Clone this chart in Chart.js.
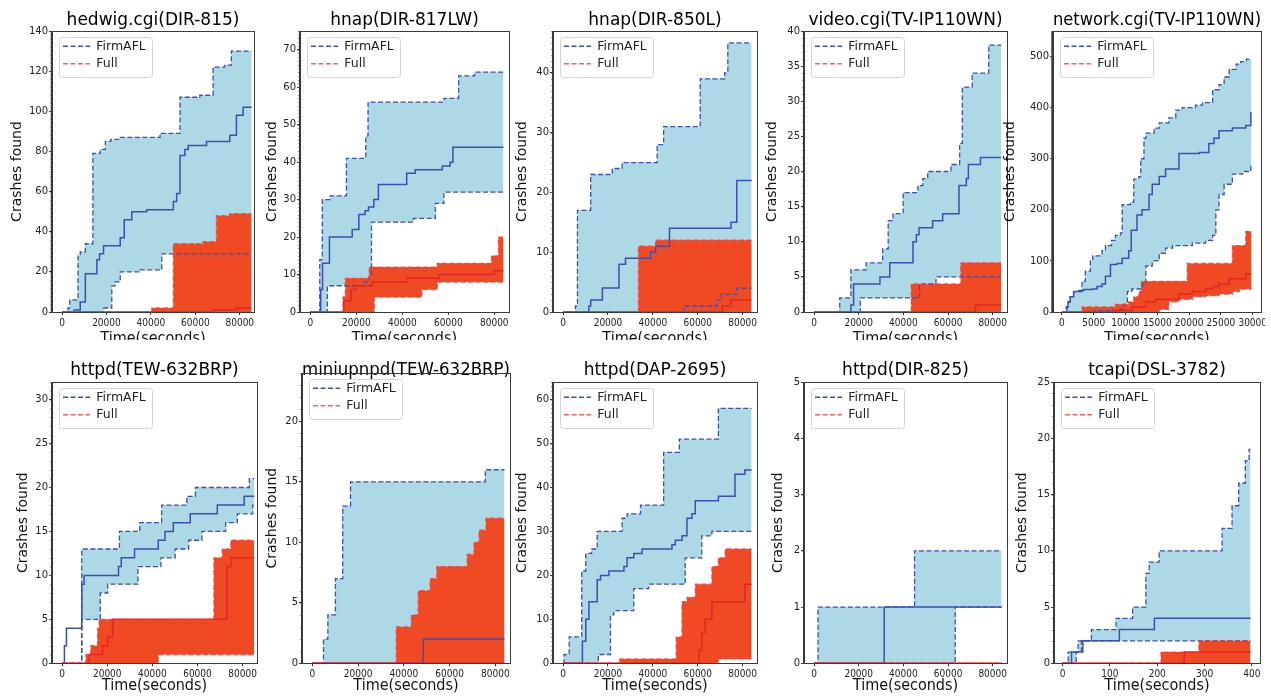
<!DOCTYPE html>
<html>
<head>
<meta charset="utf-8">
<script src="https://cdn.jsdelivr.net/npm/chart.js@4.4.0/dist/chart.umd.min.js"></script>
<style>
body { margin: 0; background: #fff; width: 1271px; height: 696px; overflow: hidden; position: relative; }
.panel { position: absolute; overflow: hidden; }
</style>
</head>
<body>
<script>
'use strict';

// panel titles and legend names
const titles = ['hedwig.cgi(DIR-815)', 'hnap(DIR-817LW)', 'hnap(DIR-850L)', 'video.cgi(TV-IP110WN)', 'network.cgi(TV-IP110WN)',
    'httpd(TEW-632BRP)', 'miniupnpd(TEW-632BRP)', 'httpd(DAP-2695)', 'httpd(DIR-825)', 'tcapi(DSL-3782)'];
const seriesNames = ['FirmAFL', 'Full'];

// tick labels
const dayTicks = [0, 20000, 40000, 60000, 80000];
const netTicks = [0, 5000, 10000, 15000, 20000, 25000, 30000];
const tcapiTicks = [0, 100, 200, 300, 400];
const yTicks = [
    [0, 20, 40, 60, 80, 100, 120, 140],
    [0, 10, 20, 30, 40, 50, 60, 70],
    [0, 10, 20, 30, 40],
    [0, 5, 10, 15, 20, 25, 30, 35, 40],
    [0, 100, 200, 300, 400, 500],
    [0, 5, 10, 15, 20, 25, 30],
    [0, 5, 10, 15, 20],
    [0, 10, 20, 30, 40, 50, 60],
    [0, 1, 2, 3, 4, 5],
    [0, 5, 10, 15, 20, 25]
];
const yMax = [140, 75, 47, 40, 550, 32, 24, 64, 5, 25];
const xMin = [-4500, -4500, -4500, -4500, -1400, -4500, -4500, -4500, -4500, -18];
const xMax = [86400, 86400, 86400, 86400, 31300, 86400, 86400, 86400, 86400, 417];
const xTicks = [dayTicks, dayTicks, dayTicks, dayTicks, netTicks, dayTicks, dayTicks, dayTicks, dayTicks, tcapiTicks];

// [time, crashes] : upper / median / lower of each fuzzer
const p1FirmHi = [[0,0],[2700,2],[3500,6],[7200,28],[8200,30],[10500,34],[13900,79],[17200,81],[19500,85],[22000,86],[26200,87],[44100,89],[53100,107],[62000,108],[68000,122],[73300,123],[76200,130],[85300,130]];
const p1FirmMid = [[0,0],[5500,1],[8200,5],[10500,19],[15700,26],[16900,29],[18700,33],[26200,37],[28000,46],[31400,50],[38100,51],[50100,55],[51600,59],[53100,78],[55300,81],[56800,83],[65000,85],[75500,88],[78500,98],[81500,102],[85300,102]];
const p1FirmLo = [[0,0],[18700,2],[22400,13],[23900,15],[26200,20],[35100,21],[44900,29],[85300,29]];
const p1FullHi = [[0,0],[40400,2],[50100,34],[63500,35],[69500,48],[75500,49],[85300,49]];
const p1FullMid = [[0,0],[68000,1],[78500,2],[85300,2]];
const p1FullLo = [[0,0],[85300,0]];

const p2FirmHi = [[0,0],[4100,14],[5200,30],[8600,31],[15700,41],[24100,47],[25100,56],[58100,57],[64500,63],[71400,64],[84000,64]];
const p2FirmMid = [[0,0],[4500,6],[5300,13],[8300,20],[18200,22],[21100,26],[23800,27],[25300,28],[27600,30],[29600,34],[41900,37],[45600,38],[57400,39],[60800,40],[62000,44],[84000,44]];
const p2FirmLo = [[0,0],[7400,7],[23400,8],[25600,10],[26600,24],[44800,25],[54400,29],[58100,32],[84000,32]];
const p2FullHi = [[0,0],[14200,4],[15200,9],[25600,12],[55200,13],[78800,15],[81800,20],[84000,20]];
const p2FullMid = [[0,0],[14500,3],[17700,6],[20000,7],[27000,8],[42000,9],[56000,10],[80000,11],[84000,11]];
const p2FullLo = [[0,0],[27800,4],[48500,6],[55200,8],[84000,8]];

const p3FirmHi = [[0,0],[5500,1],[6400,17],[12300,23],[21900,24],[26300,25],[41900,28],[44800,31],[61100,39],[72000,40],[73400,45],[84000,45]];
const p3FirmMid = [[0,0],[11500,1],[12300,2],[17500,4],[24900,8],[27800,9],[39000,10],[41200,11],[47400,14],[74800,15],[77400,22],[84000,22]];
const p3FirmLo = [[0,0],[54000,1],[68500,2],[70500,3],[77400,4],[84000,4]];
const p3FullHi = [[0,0],[33600,11],[41200,12],[84000,12]];
const p3FullMid = [[0,0],[71000,1],[74700,2],[84000,2]];
const p3FullLo = [[0,0],[84000,0]];

const p4FirmHi = [[0,0],[11500,2],[16500,6],[23300,7],[30700,9],[33200,13],[35400,14],[39900,17],[46500,18],[48700,19],[50900,20],[61300,21],[65200,24],[66400,32],[70800,34],[78200,38],[83800,38]];
const p4FirmMid = [[0,0],[16500,1],[17700,4],[29500,5],[33900,7],[44300,10],[45800,11],[47000,12],[53100,13],[57600,14],[64900,18],[68200,19],[69100,21],[74500,22],[83800,22]];
const p4FirmLo = [[0,0],[20700,2],[47200,4],[54600,5],[83800,5]];
const p4FullHi = [[0,0],[43500,4],[65700,7],[83800,7]];
const p4FullMid = [[0,0],[72300,1],[83800,1]];
const p4FullLo = [[0,0],[83800,0]];

const p5FirmHi = [[0,0],[630,10],[1050,20],[1300,30],[1840,40],[3160,60],[3680,80],[4470,100],[4840,110],[6300,120],[6840,130],[7800,140],[8400,150],[9200,155],[9470,210],[10800,215],[11300,260],[12100,265],[12400,300],[12900,340],[13200,350],[14500,360],[15300,370],[16800,380],[17900,395],[18900,400],[21000,405],[22100,410],[23700,435],[24700,445],[25500,460],[26300,475],[27400,485],[28100,490],[29000,495],[29800,495]];
const p5FirmMid = [[0,0],[790,10],[950,20],[1300,30],[1840,40],[2630,42],[3420,44],[4730,45],[5520,50],[6300,55],[6840,70],[7630,93],[8680,95],[9470,105],[10500,120],[10900,160],[11800,190],[12600,200],[13700,230],[14200,250],[15300,265],[16300,280],[18400,310],[21600,312],[23100,330],[23900,340],[24700,355],[26800,360],[28900,365],[29700,390],[29800,390]];
const p5FirmLo = [[0,0],[5000,2],[8940,5],[9730,15],[10300,40],[11000,45],[12600,55],[13200,90],[14200,100],[15300,115],[16300,125],[17400,130],[20500,135],[22600,140],[23700,150],[24200,200],[24700,230],[25500,250],[26800,270],[28400,275],[29700,285],[29800,285]];
const p5FullHi = [[0,0],[3160,10],[8400,15],[10500,20],[11300,30],[12100,40],[12500,60],[19700,95],[26800,130],[28900,158],[29800,158]];
const p5FullMid = [[0,0],[8000,3],[11000,10],[13200,20],[14800,25],[18400,35],[20500,40],[22600,45],[23700,50],[24700,55],[26300,65],[28900,75],[29800,75]];
const p5FullLo = [[0,0],[15300,5],[16800,20],[18400,25],[20500,30],[22600,32],[24700,35],[26800,40],[27900,45],[29800,45]];

const p6FirmHi = [[0,0],[8700,13],[25400,15],[34400,16],[44100,18],[55300,19],[59100,20],[83000,21],[85200,21]];
const p6FirmMid = [[0,0],[1000,2],[1900,4],[8700,9],[9700,10],[25000,11],[26200,12],[32100,13],[42600,14],[45600,15],[49300,16],[56800,17],[68800,18],[80700,19],[85200,19]];
const p6FirmLo = [[0,0],[8700,5],[16900,8],[20200,9],[33600,11],[43800,12],[50100,13],[56100,14],[62000,15],[72500,16],[77700,17],[84500,18],[85200,18]];
const p6FullHi = [[0,0],[10500,1],[12700,2],[15700,4],[16400,5],[67300,12],[71000,13],[74800,14],[85200,14]];
const p6FullMid = [[0,0],[12000,1],[17900,2],[20200,3],[22400,5],[73000,11],[74800,12],[85200,12]];
const p6FullLo = [[0,0],[42600,1],[85200,1]];

const p7FirmHi = [[0,0],[4900,2],[6800,4],[10100,7],[13300,13],[16700,15],[75600,16],[84000,16]];
const p7FirmMid = [[0,0],[48500,2],[84000,2]];
const p7FirmLo = [[0,0],[84000,0]];
const p7FullHi = [[0,0],[36700,3],[43300,4],[46300,6],[51500,7],[54400,8],[67700,9],[70700,10],[72900,11],[75900,12],[84000,12]];
const p7FullMid = [[0,0],[84000,0]];
const p7FullLo = [[0,0],[84000,0]];

const p8FirmHi = [[0,0],[400,2],[2700,6],[8300,21],[10100,25],[12700,26],[15200,30],[26300,33],[28500,34],[34500,36],[44800,48],[51800,51],[69200,58],[84000,58]];
const p8FirmMid = [[0,0],[8600,5],[10100,10],[11500,14],[15200,19],[16700,20],[20400,21],[27100,22],[28500,24],[31500,25],[35200,26],[48500,27],[50000,28],[53000,29],[55200,33],[57400,34],[58900,37],[69200,38],[76600,43],[81000,44],[84000,44]];
const p8FirmLo = [[0,0],[15700,2],[21100,11],[22600,12],[31500,17],[38200,18],[54400,24],[61800,29],[66300,30],[84000,30]];
const p8FullHi = [[0,0],[25100,1],[50400,6],[53000,14],[55200,15],[58900,18],[66300,22],[69200,24],[72200,26],[84000,26]];
const p8FullMid = [[0,0],[60600,3],[61800,7],[63300,10],[66300,14],[81000,18],[84000,18]];
const p8FullLo = [[0,0],[69200,1],[84000,1]];

const p9FirmHi = [[0,0],[1800,1],[45000,2],[84000,2]];
const p9FirmMid = [[0,0],[31400,1],[84000,1]];
const p9FirmLo = [[0,0],[63200,1],[84000,1]];
const p9FullHi = [[0,0],[84000,0]];
const p9FullMid = [[0,0],[84000,0]];
const p9FullLo = [[0,0],[84000,0]];

const p10FirmHi = [[0,0],[12,1],[33,2],[61,3],[113,4],[148,5],[176,8],[183,9],[204,10],[337,12],[358,14],[372,16],[386,18],[394,19],[397,19]];
const p10FirmMid = [[0,0],[19,1],[43,2],[120,3],[194,4],[397,4]];
const p10FirmLo = [[0,0],[29,1],[40,2],[397,2]];
const p10FullHi = [[0,0],[208,1],[288,2],[397,2]];
const p10FullMid = [[0,0],[257,1],[397,1]];
const p10FullLo = [[0,0],[397,0]];

const panelData = [
    [p1FirmHi, p1FirmMid, p1FirmLo, p1FullHi, p1FullMid, p1FullLo],
    [p2FirmHi, p2FirmMid, p2FirmLo, p2FullHi, p2FullMid, p2FullLo],
    [p3FirmHi, p3FirmMid, p3FirmLo, p3FullHi, p3FullMid, p3FullLo],
    [p4FirmHi, p4FirmMid, p4FirmLo, p4FullHi, p4FullMid, p4FullLo],
    [p5FirmHi, p5FirmMid, p5FirmLo, p5FullHi, p5FullMid, p5FullLo],
    [p6FirmHi, p6FirmMid, p6FirmLo, p6FullHi, p6FullMid, p6FullLo],
    [p7FirmHi, p7FirmMid, p7FirmLo, p7FullHi, p7FullMid, p7FullLo],
    [p8FirmHi, p8FirmMid, p8FirmLo, p8FullHi, p8FullMid, p8FullLo],
    [p9FirmHi, p9FirmMid, p9FirmLo, p9FullHi, p9FullMid, p9FullLo],
    [p10FirmHi, p10FirmMid, p10FirmLo, p10FullHi, p10FullMid, p10FullLo]
];

// where each plot box sits on the page
const boxes = [
    { l: 52, r: 254, t: 31, b: 312, top: 0, titleY: 20.5, xTitleY: 338.5, yTitleX: 17.5 },
    { l: 300, r: 509, t: 31, b: 312, top: 0, titleY: 20.5, xTitleY: 338.5, yTitleX: 272.5 },
    { l: 553, r: 757, t: 31, b: 312, top: 0, titleY: 20.5, xTitleY: 338.5, yTitleX: 522.5 },
    { l: 804, r: 1007, t: 31, b: 312, top: 0, titleY: 20.5, xTitleY: 338.5, yTitleX: 772.5 },
    { l: 1053, r: 1261, t: 31, b: 312, top: 0, titleY: 20.5, xTitleY: 338.5, yTitleX: 1010.5 },
    { l: 52, r: 257, t: 382, b: 663.3, top: 340, titleY: 371, xTitleY: 686, yTitleX: 23 },
    { l: 302, r: 510, t: 373, b: 663.3, top: 340, titleY: 371, xTitleY: 686, yTitleX: 272.5 },
    { l: 553, r: 757, t: 382, b: 663.3, top: 340, titleY: 371, xTitleY: 686, yTitleX: 522.5 },
    { l: 804, r: 1007, t: 382, b: 663.3, top: 340, titleY: 371, xTitleY: 686, yTitleX: 778 },
    { l: 1054, r: 1260, t: 382, b: 663.3, top: 340, titleY: 371, xTitleY: 686, yTitleX: 1022.5 }
];

const blueLine = '#3d4fb2';
const redLine = 'rgba(255, 55, 55, 0.8)';
const blueFill = '#add8e6';
const redFill = '#ef4a24';
const dash = [5, 2.5];
const FONT = "'DejaVu Sans', sans-serif";
const NARROW = "'DejaVu Sans Condensed', 'DejaVu Sans', sans-serif";

function pts(arr) {
    return arr.map(p => ({ x: p[0], y: p[1] }));
}

// box frame, minor ticks, legend frame
const framePlugin = {
    id: 'frame',
    afterLayout(chart) {
        const a = chart.chartArea;
        chart.legend.left = a.left + 6;
        chart.legend.top = a.top + 4;
    },
    beforeDraw(chart) {
        const a = chart.chartArea;
        const ctx = chart.ctx;
        ctx.save();
        ctx.fillStyle = 'rgba(255,255,255,0.9)';
        ctx.strokeStyle = '#d4d4d4';
        ctx.lineWidth = 1;
        ctx.beginPath();
        ctx.roundRect(a.left + 7.5, a.top + 6.5, 93, 40, 3);
        ctx.fill();
        ctx.stroke();
        ctx.restore();
    },
    afterDraw(chart) {
        const a = chart.chartArea;
        const ctx = chart.ctx;
        const ys = chart.scales.y;
        ctx.save();
        ctx.strokeStyle = '#555';
        ctx.lineWidth = 0.6;
        ctx.beginPath();
        for (let v = 0; v <= ys.max; v++) {
            const py = Math.round(ys.getPixelForValue(v)) + 0.5;
            ctx.moveTo(a.left - 2, py);
            ctx.lineTo(a.left, py);
        }
        ctx.stroke();
        ctx.strokeStyle = '#3a3a3a';
        ctx.lineWidth = 1;
        ctx.strokeRect(Math.round(a.left) - 0.5, Math.round(a.top) + 0.5, Math.round(a.width) + 1, Math.round(a.height));
        ctx.restore();
    }
};

function lineSet(data, color, solid, extra) {
    return Object.assign({
        data: pts(data),
        borderColor: color,
        borderWidth: solid ? 1.5 : 1.3,
        borderDash: solid ? [] : dash,
        stepped: true,
        pointRadius: 0,
        fill: false
    }, extra || {});
}

// legend samples as dashed strokes in the series colour
function legendItems(chart) {
    const items = Chart.defaults.plugins.legend.labels.generateLabels(chart);
    return items.map(item => {
        const ds = chart.data.datasets[item.datasetIndex];
        item.lineDash = dash;
        item.strokeStyle = ds.borderColor;
        item.lineWidth = 1.5;
        return item;
    });
}

boxes.forEach((g, i) => {
    const bottomRow = g.top > 0;
    const rowH = bottomRow ? 356 : 340;
    const canH = bottomRow ? 356 : 370;
    const W = g.r - g.l + 64;
    const left = g.l - 60;

    const div = document.createElement('div');
    div.className = 'panel';
    div.style.left = left + 'px';
    div.style.top = g.top + 'px';
    div.style.width = W + 'px';
    div.style.height = rowH + 'px';
    const cv = document.createElement('canvas');
    cv.width = W;
    cv.height = canH;
    cv.style.width = W + 'px';
    cv.style.height = canH + 'px';
    div.appendChild(cv);
    document.body.appendChild(div);

    const boxTop = g.t - g.top;
    const boxBottom = g.b - g.top;
    const titlePadTop = g.titleY - g.top - 10.2;
    const titlePadBottom = boxTop - 20.4 - titlePadTop;
    const xH = canH - boxBottom;
    const xTitlePad = canH - 9.6 - (g.xTitleY - g.top);
    const yTitlePad = g.yTitleX - left - 8.4;

    const d = panelData[i];
    const datasets = [
        lineSet(d[0], blueLine, false, { label: seriesNames[0], fill: 2, backgroundColor: blueFill, order: 2, inLegend: true }),
        lineSet(d[1], blueLine, true, { order: 2 }),
        lineSet(d[2], blueLine, false, { order: 2 }),
        lineSet(d[3], redLine, false, { label: seriesNames[1], fill: 5, backgroundColor: redFill, order: 1, inLegend: true }),
        lineSet(d[4], '#e52525', true, { order: 1 }),
        lineSet(d[5], redLine, false, { order: 1 })
    ];

    new Chart(cv, {
        type: 'line',
        data: { datasets: datasets },
        options: {
            responsive: false,
            animation: false,
            devicePixelRatio: 1,
            layout: { padding: { left: 0, right: 4, top: 0, bottom: 0 } },
            scales: {
                x: {
                    type: 'linear',
                    min: xMin[i],
                    max: xMax[i],
                    afterBuildTicks: s => { s.ticks = xTicks[i].map(v => ({ value: v })); },
                    afterFit: s => { s.height = xH; s.paddingLeft = 0; s.paddingRight = 0; },
                    ticks: { callback: v => String(v), autoSkip: false, maxRotation: 0, padding: 2, color: '#222', font: { family: NARROW, size: 10 } },
                    grid: { display: true, drawOnChartArea: false, drawTicks: true, tickLength: 3, color: '#333' },
                    border: { display: true, color: '#3a3a3a', width: 1 },
                    title: { display: true, text: 'Time(seconds)', color: '#111', font: { family: NARROW, size: 16 }, padding: { top: 0, bottom: xTitlePad } }
                },
                y: {
                    type: 'linear',
                    min: 0,
                    max: yMax[i],
                    afterBuildTicks: s => { s.ticks = yTicks[i].map(v => ({ value: v })); },
                    afterFit: s => { s.width = 60; s.paddingTop = 0; s.paddingBottom = 0; },
                    ticks: { callback: v => String(v), autoSkip: false, padding: 1, color: '#222', font: { family: FONT, size: 10 } },
                    grid: { display: true, drawOnChartArea: false, drawTicks: true, tickLength: 3, color: '#333' },
                    border: { display: true, color: '#3a3a3a', width: 1 },
                    title: { display: true, text: 'Crashes found', color: '#111', font: { family: FONT, size: 14 }, padding: { top: yTitlePad, bottom: 0 } }
                }
            },
            plugins: {
                filler: { drawTime: 'beforeDatasetsDraw' },
                tooltip: { enabled: false },
                title: {
                    display: true,
                    text: titles[i],
                    fullSize: false,
                    color: '#000',
                    font: { family: FONT, size: 17, weight: 'normal' },
                    padding: { top: titlePadTop, bottom: titlePadBottom }
                },
                legend: {
                    display: true,
                    position: 'chartArea',
                    align: 'start',
                    labels: {
                        usePointStyle: true,
                        pointStyle: 'line',
                        pointStyleWidth: 27,
                        padding: 5,
                        color: '#222',
                        font: { family: FONT, size: 12.5 },
                        generateLabels: legendItems,
                        filter: (item, data) => data.datasets[item.datasetIndex].inLegend === true,
                        sort: (a, b) => a.datasetIndex - b.datasetIndex
                    }
                }
            }
        },
        plugins: [framePlugin]
    });
});
</script>
</body>
</html>
